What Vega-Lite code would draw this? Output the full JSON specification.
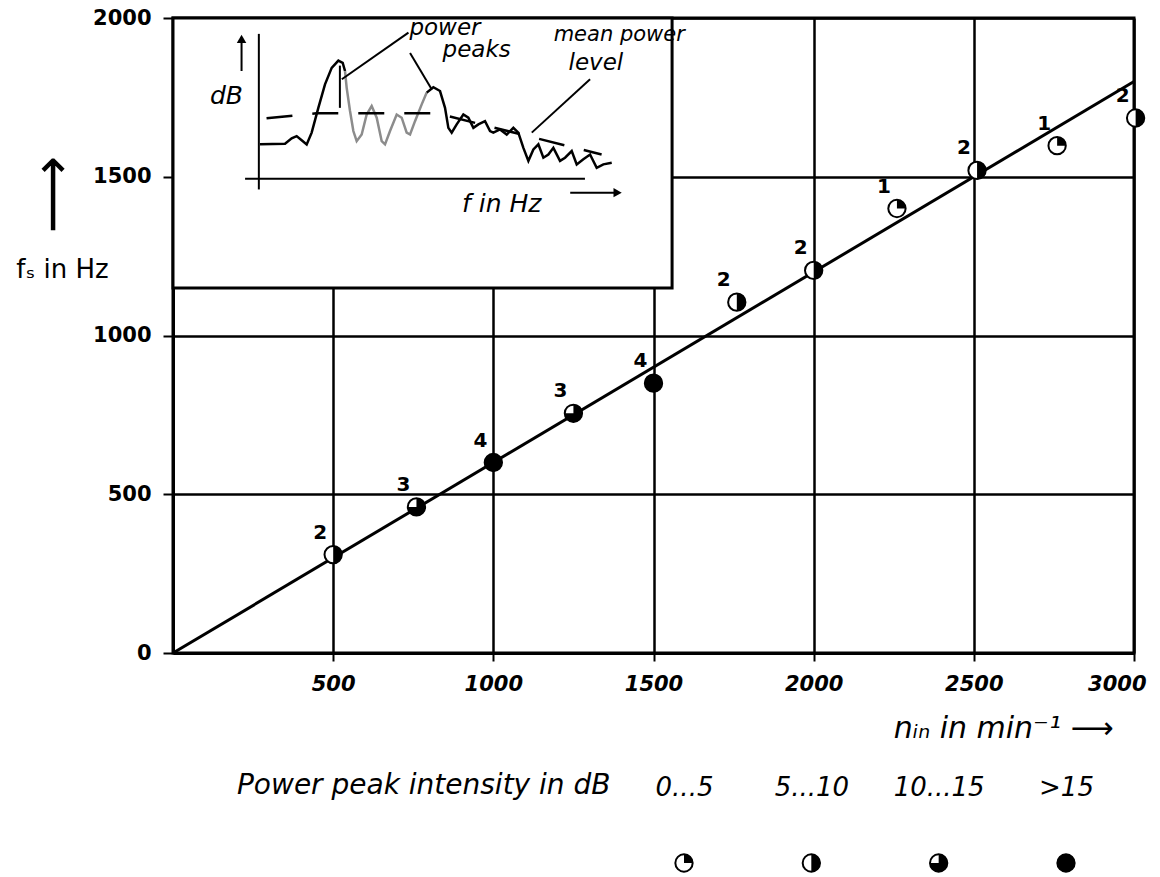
{
  "$schema": "https://vega.github.io/schema/vega-lite/v6.json",
  "padding": {"left": 14, "top": 5, "right": 5, "bottom": 0},
  "background": "white",
  "spacing": 26,
  "datasets": {
    "pts": [
      {"n": 500, "f": 310, "cls": 2},
      {"n": 760, "f": 460, "cls": 3},
      {"n": 1000, "f": 600, "cls": 4},
      {"n": 1250, "f": 755, "cls": 3},
      {"n": 1500, "f": 850, "cls": 4},
      {"n": 1760, "f": 1105, "cls": 2},
      {"n": 2000, "f": 1205, "cls": 2},
      {"n": 2260, "f": 1400, "cls": 1},
      {"n": 2510, "f": 1520, "cls": 2},
      {"n": 2760, "f": 1598, "cls": 1},
      {"n": 3005, "f": 1685, "cls": 2}
    ],
    "fit": [{"n": 0, "f": 0}, {"n": 3000, "f": 1800}],
    "box": [{"n": 0, "n2": 1558, "f": 1150, "f2": 2000}],
    "rules": [
      {"n": 268, "n2": 268, "f": 1460, "f2": 1950},
      {"n": 225, "n2": 1286, "f": 1494, "f2": 1494},
      {"n": 735, "n2": 527, "f": 1954, "f2": 1807},
      {"n": 740, "n2": 808, "f": 1890, "f2": 1775},
      {"n": 1302, "n2": 1120, "f": 1807, "f2": 1639},
      {"n": 214, "n2": 214, "f": 1833, "f2": 1925},
      {"n": 1240, "n2": 1380, "f": 1450, "f2": 1450},
      {"n": 521, "n2": 521, "f": 1717, "f2": 1850}
    ],
    "heads": [
      {"n": 214, "f": 1934, "dir": "up"},
      {"n": 1388, "f": 1450, "dir": "right"}
    ],
    "mean": [
      {"n": 292, "f": 1684},
      {"n": 448, "f": 1700},
      {"n": 823, "f": 1700},
      {"n": 1338, "f": 1570}
    ],
    "spectrum": [
      {"seg": "a", "n": 271.6, "f": 1602},
      {"seg": "a", "n": 349.7, "f": 1604},
      {"seg": "a", "n": 370.5, "f": 1621},
      {"seg": "a", "n": 386, "f": 1628},
      {"seg": "a", "n": 401.7, "f": 1615},
      {"seg": "a", "n": 417.3, "f": 1602},
      {"seg": "a", "n": 432.9, "f": 1639},
      {"seg": "a", "n": 453.7, "f": 1717},
      {"seg": "a", "n": 474.5, "f": 1791},
      {"seg": "a", "n": 495.4, "f": 1843},
      {"seg": "a", "n": 516.2, "f": 1866},
      {"seg": "a", "n": 529.7, "f": 1859},
      {"seg": "a", "n": 537, "f": 1833},
      {"seg": "b", "n": 537, "f": 1833},
      {"seg": "b", "n": 542.2, "f": 1780},
      {"seg": "b", "n": 552.6, "f": 1707},
      {"seg": "b", "n": 563, "f": 1644},
      {"seg": "b", "n": 573.4, "f": 1612},
      {"seg": "b", "n": 589, "f": 1633},
      {"seg": "b", "n": 604.6, "f": 1696},
      {"seg": "b", "n": 620.2, "f": 1723},
      {"seg": "b", "n": 635.9, "f": 1686},
      {"seg": "b", "n": 651.5, "f": 1612},
      {"seg": "b", "n": 661.9, "f": 1602},
      {"seg": "b", "n": 677.5, "f": 1644},
      {"seg": "b", "n": 698.3, "f": 1696},
      {"seg": "b", "n": 713.9, "f": 1686},
      {"seg": "b", "n": 729.5, "f": 1639},
      {"seg": "b", "n": 740, "f": 1633},
      {"seg": "b", "n": 755.5, "f": 1675},
      {"seg": "b", "n": 776.4, "f": 1728},
      {"seg": "b", "n": 792, "f": 1765},
      {"seg": "c", "n": 792, "f": 1765},
      {"seg": "c", "n": 812.8, "f": 1782},
      {"seg": "c", "n": 833.6, "f": 1770},
      {"seg": "c", "n": 849.2, "f": 1717},
      {"seg": "c", "n": 859.6, "f": 1654},
      {"seg": "c", "n": 870, "f": 1639},
      {"seg": "c", "n": 885.6, "f": 1665},
      {"seg": "c", "n": 906.4, "f": 1696},
      {"seg": "c", "n": 922, "f": 1686},
      {"seg": "c", "n": 937.7, "f": 1654},
      {"seg": "c", "n": 953.3, "f": 1665},
      {"seg": "c", "n": 974, "f": 1675},
      {"seg": "c", "n": 989.7, "f": 1644},
      {"seg": "c", "n": 1000, "f": 1639},
      {"seg": "c", "n": 1021, "f": 1649},
      {"seg": "c", "n": 1041.7, "f": 1633},
      {"seg": "c", "n": 1062.5, "f": 1654},
      {"seg": "c", "n": 1078, "f": 1639},
      {"seg": "c", "n": 1093.8, "f": 1591},
      {"seg": "c", "n": 1109.4, "f": 1550},
      {"seg": "c", "n": 1125, "f": 1586},
      {"seg": "c", "n": 1140.6, "f": 1602},
      {"seg": "c", "n": 1156.2, "f": 1560},
      {"seg": "c", "n": 1171.8, "f": 1570},
      {"seg": "c", "n": 1187.4, "f": 1591},
      {"seg": "c", "n": 1208.2, "f": 1550},
      {"seg": "c", "n": 1223.9, "f": 1560},
      {"seg": "c", "n": 1244.7, "f": 1581},
      {"seg": "c", "n": 1260.3, "f": 1539},
      {"seg": "c", "n": 1281, "f": 1555},
      {"seg": "c", "n": 1302, "f": 1570},
      {"seg": "c", "n": 1322.7, "f": 1528},
      {"seg": "c", "n": 1343.5, "f": 1539},
      {"seg": "c", "n": 1369.6, "f": 1544}
    ],
    "itext": [
      {"t": "power", "n": 849, "f": 1970, "role": "callout"},
      {"t": "peaks", "n": 948, "f": 1898, "role": "callout"},
      {"t": "mean power", "n": 1393, "f": 1948, "role": "small"},
      {"t": "level", "n": 1320, "f": 1859, "role": "callout"},
      {"t": "dB", "n": 167, "f": 1754, "role": "axis"},
      {"t": "f in Hz", "n": 1026, "f": 1413, "role": "axis"}
    ],
    "leg": [
      {"intensity": "0...5", "cls": 1},
      {"intensity": "5...10", "cls": 2},
      {"intensity": "10...15", "cls": 3},
      {"intensity": ">15", "cls": 4}
    ]
  },
  "vconcat": [
    {
      "width": 961,
      "height": 635,
      "view": {"stroke": "black", "strokeWidth": 3},
      "resolve": {"axis": {"y": "independent"}},
      "layer": [
        {
          "data": {"name": "box"},
          "mark": {"type": "rect", "fill": "white", "stroke": "black", "strokeWidth": 3},
          "encoding": {
            "x": {"field": "n", "type": "quantitative", "scale": {"domain": [0, 3000], "nice": false},
              "axis": {"values": [500, 1000, 1500, 2000, 2500, 3000], "format": "d", "grid": true, "gridWidth": 2.5,
                "domainWidth": 3, "tickWidth": 2, "tickSize": 8, "labelFontSize": 21, "labelFontWeight": "bold",
                "labelFontStyle": "italic", "labelPadding": 12, "labelFlush": true, "labelFlushOffset": 12,
                "title": "nᵢₙ    in    min⁻¹     ⟶", "titleX": 940, "titleY": 75, "titleAlign": "right",
                "titleBaseline": "middle", "titleFontSize": 30, "titleFontStyle": "italic", "titleFontWeight": "normal"}},
            "x2": {"field": "n2"},
            "y": {"field": "f", "type": "quantitative", "scale": {"domain": [0, 2000], "nice": false},
              "axis": {"values": [0, 500, 1000, 1500, 2000], "format": "d", "grid": true, "gridWidth": 2.5, "domainWidth": 3,
                "tickWidth": 2, "tickSize": 10, "labelFontSize": 21, "labelFontWeight": "bold", "labelPadding": 12,
                "title": "fₛ in Hz", "titleAngle": 0, "titleX": -111, "titleY": 251, "titleAlign": "center",
                "titleBaseline": "middle", "titleFontSize": 26, "titleFontWeight": "normal"}},
            "y2": {"field": "f2"}
          }
        },
        {
          "data": {"name": "spectrum"},
          "mark": {"type": "line", "strokeWidth": 2.5},
          "encoding": {
            "x": {"field": "n", "type": "quantitative"},
            "y": {"field": "f", "type": "quantitative", "axis": null},
            "detail": {"field": "seg"},
            "color": {"field": "seg", "type": "nominal", "scale": {"domain": ["a", "b", "c"], "range": ["black", "#8c8c8c", "black"]}, "legend": null}
          }
        },
        {
          "data": {"name": "mean"},
          "mark": {"type": "line", "strokeWidth": 2.5, "color": "black", "strokeDash": [26, 20]},
          "encoding": {
            "x": {"field": "n", "type": "quantitative"},
            "y": {"field": "f", "type": "quantitative", "axis": null}
          }
        },
        {
          "data": {"name": "rules"},
          "mark": {"type": "rule", "strokeWidth": 2, "color": "black"},
          "encoding": {
            "x": {"field": "n", "type": "quantitative"},
            "x2": {"field": "n2"},
            "y": {"field": "f", "type": "quantitative", "axis": null},
            "y2": {"field": "f2"}
          }
        },
        {
          "data": {"name": "heads"},
          "mark": {"type": "point", "filled": true, "color": "black", "opacity": 1, "size": 90},
          "encoding": {
            "x": {"field": "n", "type": "quantitative"},
            "y": {"field": "f", "type": "quantitative", "axis": null},
            "shape": {"field": "dir", "type": "nominal", "scale": {"domain": ["up", "right"], "range": ["triangle-up", "triangle-right"]}, "legend": null}
          }
        },
        {
          "data": {"name": "itext"},
          "mark": {"type": "text", "fontStyle": "italic", "color": "black", "font": "DejaVu Sans"},
          "encoding": {
            "x": {"field": "n", "type": "quantitative"},
            "y": {"field": "f", "type": "quantitative", "axis": null},
            "text": {"field": "t"},
            "size": {"field": "role", "type": "nominal", "scale": {"domain": ["axis", "callout", "small"], "range": [25, 21, 14]}, "legend": null}
          }
        },
        {
          "data": {"name": "fit"},
          "mark": {"type": "line", "strokeWidth": 3, "color": "black"},
          "encoding": {
            "x": {"field": "n", "type": "quantitative"},
            "y": {"field": "f", "type": "quantitative",
              "axis": {"orient": "left", "labels": false, "ticks": false, "domain": false, "grid": false,
                "title": "⟶", "titleAngle": -90, "titleX": -120, "titleY": 176, "titleAlign": "center",
                "titleBaseline": "middle", "titleFontSize": 54, "titleFontWeight": "normal"}}
          }
        },
        {
          "data": {"name": "pts"},
          "mark": {"type": "point", "shape": "circle", "filled": true, "fill": "white", "stroke": "black", "strokeWidth": 2, "size": 300, "opacity": 1},
          "encoding": {
            "x": {"field": "n", "type": "quantitative"},
            "y": {"field": "f", "type": "quantitative", "axis": null}
          }
        },
        {
          "data": {"name": "pts"},
          "mark": {"type": "arc", "outerRadius": 9, "innerRadius": 0, "color": "black"},
          "encoding": {
            "x": {"field": "n", "type": "quantitative"},
            "y": {"field": "f", "type": "quantitative", "axis": null},
            "theta": {"field": "cls", "type": "quantitative", "scale": {"domain": [0, 4], "range": [0, 6.283185307179586]}},
            "theta2": {"datum": 0}
          }
        },
        {
          "data": {"name": "pts"},
          "mark": {"type": "text", "dx": -13, "dy": -22, "fontSize": 20, "fontWeight": "bold", "color": "black"},
          "encoding": {
            "x": {"field": "n", "type": "quantitative"},
            "y": {"field": "f", "type": "quantitative", "axis": null},
            "text": {"field": "cls"}
          }
        }
      ]
    },
    {
      "width": 961,
      "height": 24,
      "view": {"stroke": null},
      "data": {"name": "leg"},
      "encoding": {
        "x": {"field": "intensity", "type": "nominal",
          "scale": {"type": "point", "domain": ["0...5", "5...10", "10...15", ">15"], "range": [511, 893], "padding": 0},
          "axis": {"orient": "top", "ticks": false, "domain": false, "grid": false, "labelAngle": 0,
            "labelFontSize": 26, "labelFontStyle": "italic", "labelFontWeight": "normal", "labelPadding": 51,
            "title": "Power peak intensity in dB", "titleX": 437, "titleY": -66, "titleAlign": "right",
            "titleBaseline": "middle", "titleAngle": 0, "titleFontSize": 28, "titleFontStyle": "italic", "titleFontWeight": "normal"}}
      },
      "layer": [
        {
          "mark": {"type": "point", "shape": "circle", "filled": true, "fill": "white", "stroke": "black", "strokeWidth": 2, "size": 300, "opacity": 1}
        },
        {
          "mark": {"type": "arc", "outerRadius": 9, "innerRadius": 0, "color": "black"},
          "encoding": {
            "theta": {"field": "cls", "type": "quantitative", "scale": {"domain": [0, 4], "range": [0, 6.283185307179586]}},
            "theta2": {"datum": 0}
          }
        }
      ]
    }
  ],
  "resolve": {"scale": {"x": "independent", "y": "independent", "theta": "independent"}},
  "config": {
    "font": "DejaVu Sans",
    "axis": {
      "labelColor": "black", "titleColor": "black", "domainColor": "black", "tickColor": "black",
      "gridColor": "black", "gridOpacity": 1, "labelFont": "DejaVu Sans", "titleFont": "DejaVu Sans"
    }
  }
}
